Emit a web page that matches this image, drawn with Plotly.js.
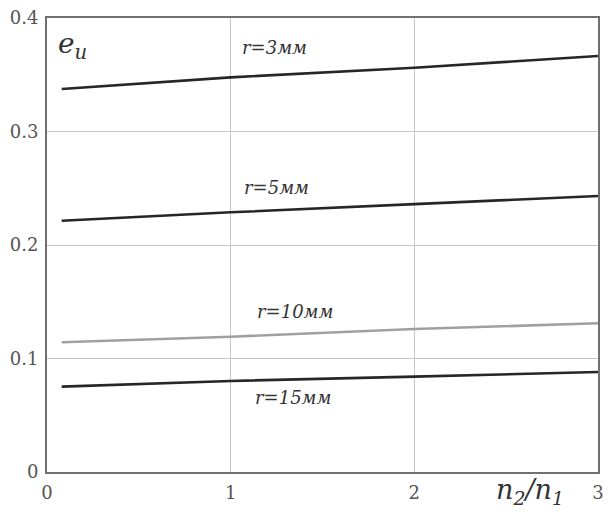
<!DOCTYPE html>
<html>
<head>
<meta charset="utf-8">
<script src="https://cdn.plot.ly/plotly-3.0.1.min.js"></script>
<style>html,body{margin:0;padding:0;background:#fff;}</style>
</head>
<body>
<div id="chart" style="width:612px;height:515px;"></div>
<script>
// data
const xRatio = [0.08, 1, 2, 3];
const e_r3  = [0.3375, 0.3477, 0.3562, 0.3665];
const e_r5  = [0.2214, 0.2288, 0.2360, 0.2432];
const e_r10 = [0.1143, 0.1192, 0.1260, 0.1310];
const e_r15 = [0.0752, 0.0802, 0.0840, 0.0881];
const seriesNames = ["r=3мм", "r=5мм", "r=10мм", "r=15мм"];
const xTicks = [0, 1, 2, 3];
const yTicks = [0, 0.1, 0.2, 0.3, 0.4];
const yTickText = ["0", "0.1", "0.2", "0.3", "0.4"];

const serif = "DejaVu Serif";
const dark = "#262626";

const traces = [
  {x: xRatio, y: e_r3,  name: seriesNames[0], color: dark},
  {x: xRatio, y: e_r5,  name: seriesNames[1], color: dark},
  {x: xRatio, y: e_r10, name: seriesNames[2], color: "#a0a0a0"},
  {x: xRatio, y: e_r15, name: seriesNames[3], color: dark}
].map(s => ({
  type: "scatter", mode: "lines", x: s.x, y: s.y, name: s.name,
  line: {color: s.color, width: 2.6}, hoverinfo: "skip"
}));

const labelFont = {family: serif, size: 18, color: "#333", style: "italic"};
const annotations = [
  {x: 1.24, y: 0.3736, text: seriesNames[0]},
  {x: 1.25, y: 0.251, text: seriesNames[1]},
  {x: 1.35, y: 0.1418, text: seriesNames[2]},
  {x: 1.34, y: 0.066, text: seriesNames[3]}
].map(a => Object.assign({xref: "x", yref: "y", showarrow: false, font: labelFont,
  xanchor: "center", yanchor: "middle"}, a));

annotations.push({xref: "x", yref: "y", x: 0.05, y: 0.376, showarrow: false,
  xanchor: "left", yanchor: "middle",
  text: "e<sub>и</sub>", font: {family: serif, size: 28, color: "#333", style: "italic"}});
annotations.push({xref: "x", yref: "paper", x: 2.63, y: -0.042, showarrow: false,
  xanchor: "center", yanchor: "middle",
  text: "n<sub>2</sub>/n<sub>1</sub>", font: {family: serif, size: 27, color: "#333", style: "italic"}});

const layout = {
  width: 612, height: 515,
  margin: {l: 47, r: 14, t: 18, b: 43},
  paper_bgcolor: "#fff", plot_bgcolor: "#fff",
  showlegend: false,
  xaxis: {
    range: [0, 3], tickvals: xTicks, ticktext: xTicks.map(String),
    showgrid: true, gridcolor: "#c8c8c8", gridwidth: 1,
    zeroline: false, showline: true, mirror: true, linecolor: "#707070", linewidth: 2,
    ticks: "", ticklabelstandoff: 3,
    tickfont: {family: serif, size: 18, color: "#555"}
  },
  yaxis: {
    range: [0, 0.4], tickvals: yTicks, ticktext: yTickText,
    showgrid: true, gridcolor: "#c8c8c8", gridwidth: 1,
    zeroline: false, showline: true, mirror: true, linecolor: "#707070", linewidth: 2,
    ticks: "", ticklabelstandoff: 3,
    tickfont: {family: serif, size: 18, color: "#555"}
  },
  annotations: annotations
};

Plotly.newPlot("chart", traces, layout, {staticPlot: true, displayModeBar: false});
</script>
</body>
</html>
